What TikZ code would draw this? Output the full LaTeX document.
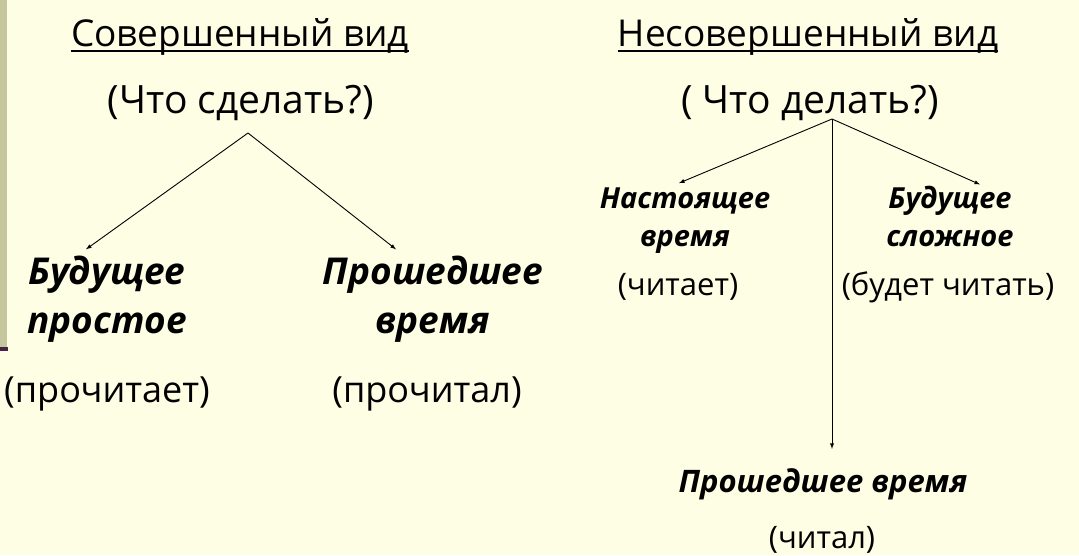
\documentclass[tikz,border=0pt]{standalone}
\usepackage{fontspec}
\setmainfont{Open Sans}
\usetikzlibrary{calc}
\definecolor{paper}{RGB}{254,254,228}
\definecolor{slidebar}{RGB}{198,198,156}
\definecolor{slidemark}{RGB}{70,35,70}
\begin{document}
\begin{tikzpicture}[x=1pt,y=-1pt,
  every node/.style={inner sep=0pt, anchor=base},
  aspect/.style={font=\fontsize{37}{40}\selectfont},
  underline/.style={draw, line width=2.8pt},
  question/.style={font=\fontsize{39}{40}\selectfont},
  tense/.style={align=center, font=\fontsize{37}{49}\selectfont\bfseries\itshape},
  tensesmall/.style={align=center, font=\fontsize{29}{38}\selectfont\bfseries\itshape},
  form/.style={font=\fontsize{36}{40}\selectfont},
  formsmall/.style={font=\fontsize{31}{32}\selectfont},
  arrow/.style={draw, line width=0.9pt, -latex}]
  \fill[paper] (0,0) rectangle (1079,555);
  \useasboundingbox (0,0) rectangle (1079,555);
  \fill[slidebar] (0,0) rectangle (7,347);
  \fill[slidemark] (0,347) rectangle (8,351);
  % perfective
  \node[aspect] (perf) at (240,46) {Совершенный вид};
  \draw[underline] ($(perf.base west)+(0,5)$) -- ($(perf.base east)+(0,5)$);
  \node[question] (whatdo) at (241,113) {(Что сделать?)};
  \coordinate (forkL) at (248,133);
  \node[tense] (futsimple) at (107,333) {Будущее\\простое};
  \node[tense] (pastperf) at (433,333) {Прошедшее\\время};
  \node[form] (willread) at (107,402) {(прочитает)};
  \node[form] (hasread) at (427,402) {(прочитал)};
  \draw[arrow] (forkL) -- ($(futsimple.north)+(-21,-6)$);
  \draw[arrow] (forkL) -- ($(pastperf.north)+(-37,-6)$);
  % imperfective
  \node[aspect] (imperf) at (808,46) {Несовершенный вид};
  \draw[underline] ($(imperf.base west)+(0,5)$) -- ($(imperf.base east)+(0,5)$);
  \node[question] (whatdoing) at (810,113) {( Что делать?)};
  \coordinate (forkR) at (832,119);
  \node[tensesmall] (present) at (685,246) {Настоящее\\время};
  \node[tensesmall] (futcompound) at (950,246) {Будущее\\сложное};
  \node[formsmall] (reads) at (678,295) {(читает)};
  \node[formsmall] (willbereading) at (948,295) {(будет читать)};
  \node[tensesmall, font=\fontsize{31}{38}\selectfont\bfseries\itshape] (pastimp) at (823,492) {Прошедшее время};
  \node[formsmall] (wasreading) at (822,548) {(читал)};
  \draw[arrow] (forkR) -- ($(present.north)+(-6,-4)$);
  \draw[arrow] (forkR) -- ($(futcompound.north)+(30,-1)$);
  \draw[arrow, shorten >=19pt] (forkR) -- (forkR |- pastimp.north);
\end{tikzpicture}
\end{document}
